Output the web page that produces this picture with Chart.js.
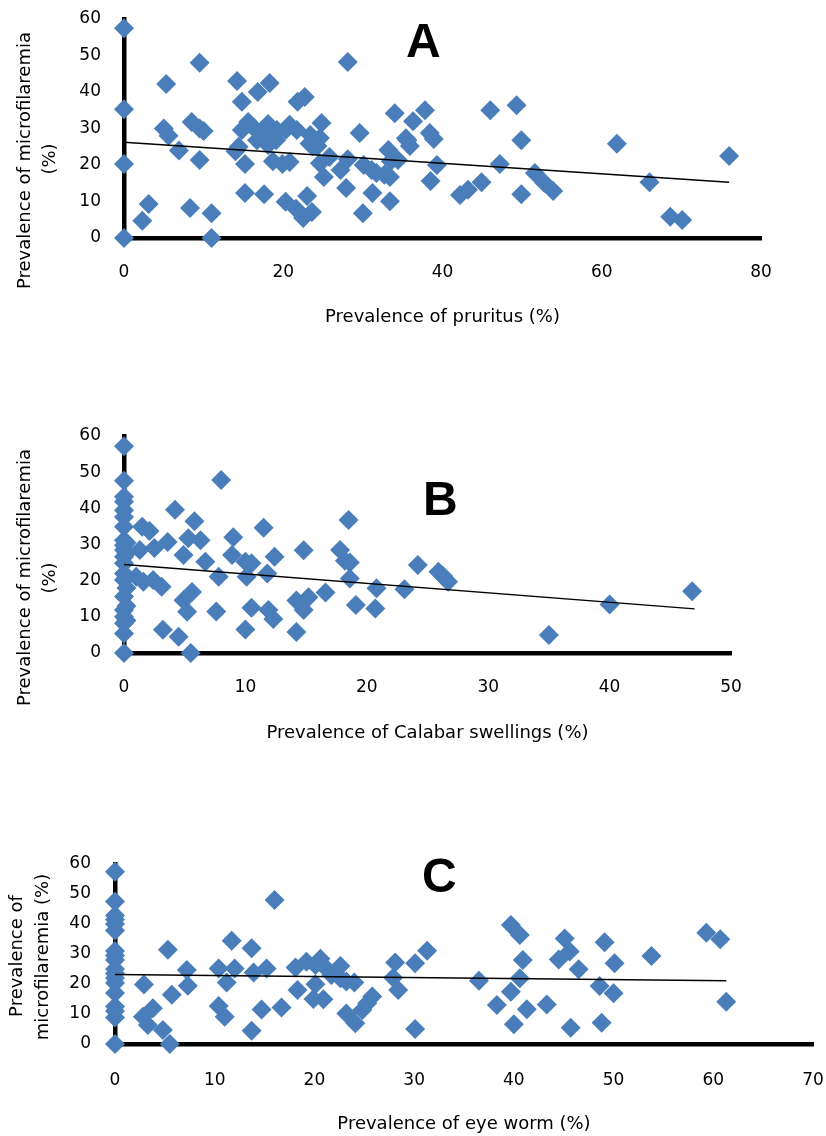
<!DOCTYPE html>
<html>
<head>
<meta charset="utf-8">
<script src="https://cdn.jsdelivr.net/npm/chart.js@4.4.1/dist/chart.umd.min.js"></script>
<style>
html,body{margin:0;padding:0;background:#fff;}
body{width:826px;height:1136px;position:relative;overflow:hidden;}
.box{position:absolute;left:0;width:826px;}
</style>
</head>
<body>
<div class="box" style="top:0px;height:345px"><canvas id="chartA"></canvas></div>
<div class="box" style="top:415px;height:345px"><canvas id="chartB"></canvas></div>
<div class="box" style="top:830px;height:306px"><canvas id="chartC"></canvas></div>
<script>
// ---------- DATA ----------
// Panel A: prevalence of pruritus (%) vs prevalence of microfilaremia (%)
const pruritusX = [0,0,0,0,2.3,3.1,5.3,5.0,5.6,6.9,8.3,8.5,9.5,9.5,10.0,9.5,11.0,11.0,14.2,14.8,14.4,14.0,15.2,15.2,14.8,15.6,16.2,16.8,16.7,17.6,18.3,18.1,17.7,18.1,18.6,19.1,19.2,18.7,19.9,20.3,20.3,20.8,21.6,21.8,21.7,22.7,22.5,23.0,23.6,23.4,23.7,24.6,24.6,24.8,25.1,24.3,25.8,27.2,27.9,28.1,28.1,29.6,30.0,30.1,31.1,31.2,31.7,32.7,33.2,33.4,33.4,34.0,33.5,34.4,35.6,35.9,36.3,37.8,38.4,38.9,38.5,39.3,42.2,43.2,44.9,46.0,47.2,49.3,49.9,49.9,51.6,52.8,53.9,61.9,66.0,68.6,70.1,76.0,20.8,23.3,35.4];
const microA    = [57.5,35.3,20.3,0,4.7,9.3,42.2,30,28,24,8.2,31.8,48,30,29.3,21.4,6.8,0,43,37.3,25,23.8,20.3,12.3,29.6,31.8,30.4,40,26.8,12,42.5,31.2,29.6,25.5,28.8,26.8,29.6,21,20.3,29.6,9.9,20.8,8,37.3,29.6,38.6,5.5,11.5,7.1,28.2,25.2,27.4,20.5,31.5,16.7,25.2,22.2,18.6,13.7,48.2,21.6,28.8,6.8,20,18.6,12.3,17.8,17.3,24.1,16.7,10.1,34.2,21,21.4,26.8,25.2,32,35,28.8,27.1,15.6,20,11.8,13.2,15.3,35,20.3,36.4,26.8,12,17.8,15.1,12.9,25.8,15.3,5.8,4.9,22.5,31,25.9,27.3];
const trendAX = [0, 76];
const trendAY = [26.2, 15.3];

// Panel B: prevalence of Calabar swellings (%) vs prevalence of microfilaremia (%)
const calabarX = [0,0,0,0,0,0,0,0,0,0,0,0,0,0,0,0,0,0,0,0,0.2,0.2,0.2,0.2,0.2,0.2,
  1.5,2.1,1.3,2.5,3.6,4.2,1.0,1.6,2.4,3.1,3.2,4.5,4.9,5.3,5.8,6.3,4.9,5.6,5.2,5.5,6.7,8.0,7.8,7.6,9.0,8.9,10.0,10.5,10.1,10.0,10.5,11.5,11.8,12.4,11.9,12.3,14.2,14.2,14.8,15.2,14.8,16.6,17.8,18.5,18.2,18.6,18.6,19.1,20.8,20.7,23.1,24.2,25.9,26.3,26.7,35.0,40.0,46.8];
const microB    = [57.2,47.6,43.2,41.8,39.5,37.6,34.9,31.2,29.8,28.5,26.6,24.8,22,20.2,15.6,11.9,10,8.2,5.4,0,30.5,27.5,21,18,13,9,
  34.9,33.7,28.5,29,30.7,39.6,21.1,19.7,20.2,18.3,6.4,4.5,27.1,31.7,36.4,31.2,14.6,16.9,11.4,0,25.2,47.8,21.1,11.5,32,27.1,25.2,24.8,21.1,6.5,12.5,34.6,22,26.6,11.9,9.4,5.8,14.5,11.9,15.4,28.4,16.7,28.5,36.8,25.5,25,20.6,13.3,17.9,12.3,17.6,24.3,22.5,21.2,19.7,5.0,13.4,17.1];
const trendBX = [0, 47];
const trendBY = [24.5, 12.2];

// Panel C: prevalence of eye worm (%) vs prevalence of microfilaremia (%)
const eyewormX = [0,0,0,0,0,0,0,0,0,0,0,0,0,0,0,0,0,0,
  2.9,2.8,3.8,3.3,4.8,5.3,5.7,5.5,7.2,7.3,10.4,10.4,11.0,11.2,11.7,12.0,13.7,13.9,15.2,14.7,13.7,16.0,16.7,18.1,18.3,19.2,20.6,20.1,21.2,22.6,20.1,19.9,20.9,21.7,22.6,23.2,24.0,23.2,24.1,24.8,25.3,25.8,28.1,27.9,28.4,30.1,31.3,30.1,36.5,39.7,40.6,40.9,40.6,39.7,38.3,41.3,40.0,43.3,45.1,45.6,44.5,46.5,45.7,49.1,50.1,48.6,50.0,48.8,53.8,59.3,60.7,61.3];
const microC    = [57.4,47.5,42.8,41.5,40,37.8,31,29.5,28,25,23.5,22,20.3,17,12.5,11,8.8,0,
  19.8,9.1,11.9,6.3,4.7,31.4,16.4,0,24.7,19.4,25.2,12.7,9.1,20.5,34.4,25.2,31.9,23.8,25.2,11.5,4.4,48,12.2,25.5,18,27.4,28.4,26.3,25.2,26,19.9,15,14.9,23,21.9,20.8,20.5,10.2,6.9,11.3,13.6,15.8,27.2,22.1,18,26.9,31.1,5,21.1,39.7,36.3,28,21.9,17.4,13,11.6,6.6,13.2,35.2,30.8,28.2,24.9,5.4,33.9,26.9,19.3,16.9,7.1,29.3,37.1,34.9,14.1];
const trendCX = [0, 61.3];
const trendCY = [23.2, 21.1];

// Axis settings / labels
const yMin = 0, yMax = 60, yStep = 10;
const panels = ['A', 'B', 'C'];
const xTitles = ['Prevalence of pruritus (%)', 'Prevalence of Calabar swellings (%)', 'Prevalence of eye worm (%)'];
const yTitleA = ['Prevalence of microfilaremia', '(%)'];
const yTitleB = ['Prevalence of microfilaremia', '(%)'];
const yTitleC = ['Prevalence of', 'microfilaremia (%)'];
const xMaxes = [80, 50, 70];
const xSteps = [20, 10, 10];

// ---------- RENDERING ----------
const FONT = "'DejaVu Sans', Verdana, sans-serif";
const MARKER = '#4A7EBB';

function pts(xs, ys) { return xs.map((x, i) => ({x: x, y: ys[i]})); }

const panelText = {
  id: 'panelText',
  afterDraw(chart, args, o) {
    const ctx = chart.ctx;
    ctx.save();
    ctx.fillStyle = '#000';
    ctx.font = o.titleFont;
    ctx.textAlign = 'center';
    ctx.textBaseline = 'alphabetic';
    o.yTitle.forEach(t => {
      ctx.save();
      ctx.translate(t.x, t.y);
      ctx.rotate(-Math.PI / 2);
      ctx.fillText(t.text, 0, 0);
      ctx.restore();
    });
    ctx.font = o.letterFont;
    ctx.textAlign = 'left';
    ctx.fillText(o.letter, o.letterX, o.letterY);
    ctx.restore();
  }
};

function makeChart(id, g, d) {
  const top = g.top;
  const canvasH = g.height;
  const aTop = g.areaTop - top, aBottom = g.areaBottom - top;
  const lineH = 18 * 1.2;
  const titlePadBottom = canvasH - (g.titleCenter - top) - lineH / 2;
  return new Chart(document.getElementById(id), {
    type: 'scatter',
    data: {
      datasets: [
        {
          data: pts(d.tx, d.ty),
          showLine: true,
          borderColor: '#000',
          borderWidth: 1.5,
          pointRadius: 0,
          fill: false,
          clip: false
        },
        {
          data: pts(d.xs, d.ys),
          pointStyle: 'rectRot',
          pointRadius: 10,
          backgroundColor: MARKER,
          borderWidth: 0,
          clip: false
        }
      ]
    },
    options: {
      responsive: true,
      maintainAspectRatio: false,
      animation: false,
      events: [],
      layout: { padding: { top: aTop, right: 826 - g.areaRight, left: 0, bottom: 0 } },
      plugins: {
        legend: { display: false },
        tooltip: { enabled: false },
        panelText: {
          titleFont: '18px ' + FONT,
          letterFont: "bold 48px 'Liberation Sans Narrow', 'Liberation Sans', Arial, sans-serif",
          yTitle: g.yTitle.map((t, i) => ({ text: d.yTitle[i], x: t.x, y: t.y - top })),
          letter: d.letter,
          letterX: g.letterX,
          letterY: g.letterY - top
        }
      },
      scales: {
        x: {
          type: 'linear',
          min: 0, max: d.xMax,
          ticks: { stepSize: d.xStep, color: '#000', font: { family: FONT, size: 17 }, padding: g.xTickPad, maxRotation: 0 },
          grid: { display: false, drawTicks: false },
          border: { display: true, color: '#000', width: 4.5 },
          title: { display: true, text: d.xTitle, color: '#000', font: { family: FONT, size: 18 }, padding: { top: 0, bottom: titlePadBottom } },
          afterFit(scale) {
            scale.height = canvasH - aBottom;
            scale.paddingLeft = 0;
            scale.paddingRight = 0;
          }
        },
        y: {
          type: 'linear',
          min: yMin, max: yMax,
          ticks: { stepSize: yStep, color: '#000', font: { family: FONT, size: 17 }, padding: g.yTickPad },
          grid: { display: false, drawTicks: false },
          border: { display: true, color: '#000', width: 4.5 },
          afterFit(scale) {
            scale.width = g.areaLeft;
            scale.paddingTop = 0;
            scale.paddingBottom = 0;
          }
        }
      }
    },
    plugins: [panelText]
  });
}

makeChart('chartA',
  { top: 0, height: 345, areaTop: 19, areaBottom: 238, areaLeft: 124, areaRight: 761, titleCenter: 317.5,
    xTickPad: 24, yTickPad: 23, yTitle: [{x: 30, y: 160.5}, {x: 54.5, y: 159}], letterX: 406, letterY: 57 },
  { xs: pruritusX, ys: microA, tx: trendAX, ty: trendAY, xMax: xMaxes[0], xStep: xSteps[0], xTitle: xTitles[0], yTitle: yTitleA, letter: panels[0] });

makeChart('chartB',
  { top: 415, height: 345, areaTop: 436, areaBottom: 653, areaLeft: 124, areaRight: 731, titleCenter: 733.4,
    xTickPad: 24, yTickPad: 23, yTitle: [{x: 30, y: 577.5}, {x: 54.5, y: 578}], letterX: 423, letterY: 515 },
  { xs: calabarX, ys: microB, tx: trendBX, ty: trendBY, xMax: xMaxes[1], xStep: xSteps[1], xTitle: xTitles[1], yTitle: yTitleB, letter: panels[1] });

makeChart('chartC',
  { top: 830, height: 306, areaTop: 864, areaBottom: 1044, areaLeft: 115, areaRight: 813, titleCenter: 1124.4,
    xTickPad: 26, yTickPad: 24, yTitle: [{x: 21.7, y: 956}, {x: 48, y: 957}], letterX: 422, letterY: 892 },
  { xs: eyewormX, ys: microC, tx: trendCX, ty: trendCY, xMax: xMaxes[2], xStep: xSteps[2], xTitle: xTitles[2], yTitle: yTitleC, letter: panels[2] });
</script>
</body>
</html>
